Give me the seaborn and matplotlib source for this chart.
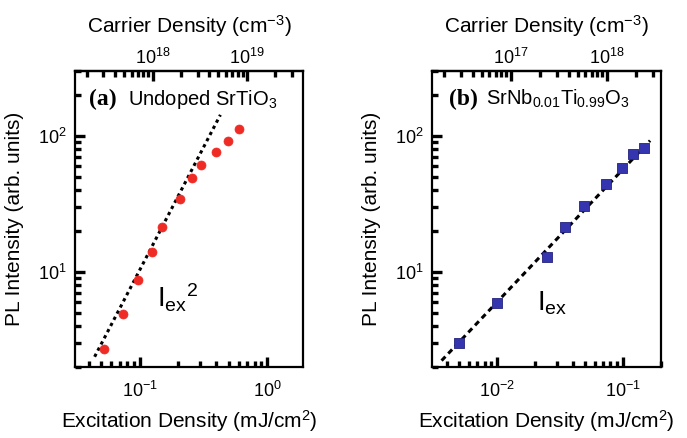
import numpy as np
import pandas as pd
import matplotlib
matplotlib.use("Agg")
import matplotlib.pyplot as plt
import seaborn as sns
from matplotlib.ticker import (LogLocator, LogFormatterSciNotation, NullFormatter,
                               FixedLocator)

# ---------------- data ----------------
exc_a = [0.0523, 0.0739, 0.0965, 0.126, 0.151, 0.209, 0.257, 0.304, 0.397, 0.493, 0.605]
pl_a = [2.70, 4.91, 8.69, 13.97, 21.5, 34.5, 48.9, 61.2, 76.3, 92.3, 112.5]
fit_a_x = [0.0443, 0.431]
fit_a_y = [2.38, 142.7]

exc_b = [0.00499, 0.0100, 0.0250, 0.0348, 0.0496, 0.0733, 0.098, 0.121, 0.148]
pl_b = [3.02, 5.94, 12.8, 21.5, 30.7, 44.2, 58.5, 73.3, 81.6]
fit_b_x = [0.00365, 0.165]
fit_b_y = [2.23, 92.3]

# carrier density axis: log10(N) = c0 + c1 * log10(E)
carrier_a = (19.213, 1.351)
carrier_b = (19.479, 1.3125)
carrier_ticks_a = [1e18, 1e19]
carrier_ticks_b = [1e17, 1e18]

xlim_a = (0.031, 1.92)
xlim_b = (0.00307, 0.201)
ylim = (2.0, 300.0)

# ---------------- style ----------------
sns.set_theme(style="ticks")
plt.rcParams["font.family"] = ["Liberation Sans", "DejaVu Sans"]
plt.rcParams["mathtext.fontset"] = "custom"
plt.rcParams["mathtext.rm"] = "Liberation Sans"
plt.rcParams["mathtext.it"] = "Liberation Sans:italic"
plt.rcParams["mathtext.bf"] = "Liberation Sans:bold"
plt.rcParams["lines.scale_dashes"] = False
plt.rcParams["axes.axisbelow"] = False
for k in ("text.color", "axes.labelcolor", "xtick.color", "ytick.color",
          "axes.edgecolor"):
    plt.rcParams[k] = "black"

fig = plt.figure(figsize=(6.87, 4.38), dpi=100)
fig.patch.set_facecolor("white")

ax_a = fig.add_axes([0.109, 0.162, 0.332, 0.676])
ax_b = fig.add_axes([0.629, 0.162, 0.333, 0.676])


def make_funcs(c):
    c0, c1 = c

    def fwd(x):
        x = np.asarray(x, dtype=float)
        with np.errstate(divide="ignore", invalid="ignore"):
            return 10 ** (c0 + c1 * np.log10(x))

    def inv(n):
        n = np.asarray(n, dtype=float)
        with np.errstate(divide="ignore", invalid="ignore"):
            return 10 ** ((np.log10(n) - c0) / c1)

    return fwd, inv


def style_axes(ax, xlim, carrier, carrier_ticks, tcol, tw, stcol, stw, stlen):
    ax.set_xscale("log")
    ax.set_yscale("log")
    ax.set_xlim(*xlim)
    ax.set_ylim(*ylim)
    ax.set_facecolor("white")
    for s in ax.spines.values():
        s.set_visible(True)
        s.set_linewidth(1.6)
        s.set_color("black")
    for axis in (ax.xaxis, ax.yaxis):
        axis.set_major_locator(LogLocator(base=10))
        axis.set_minor_locator(LogLocator(base=10, subs=np.arange(2, 10)))
        axis.set_major_formatter(LogFormatterSciNotation())
        axis.set_minor_formatter(NullFormatter())
    ax.tick_params(which="both", direction="in", top=False, right=False,
                   left=True, bottom=True, color=tcol, width=tw)
    ax.tick_params(which="major", length=7.5, labelsize=13)
    ax.tick_params(which="minor", length=4.5)
    ax.tick_params(axis="x", which="major", pad=10)
    ax.tick_params(axis="y", which="major", pad=6)
    ax.set_xlabel("Excitation Density (mJ/cm$^{2}$)", fontsize=15, labelpad=5)
    ax.set_ylabel("PL Intensity (arb. units)", fontsize=15, labelpad=10)

    fwd, inv = make_funcs(carrier)
    sec = ax.secondary_xaxis("top", functions=(fwd, inv))
    sec.patch.set_visible(False)
    sec.xaxis.set_major_locator(FixedLocator(carrier_ticks))
    sec.xaxis.set_minor_locator(LogLocator(base=10, subs=np.arange(2, 10)))
    sec.xaxis.set_major_formatter(LogFormatterSciNotation())
    sec.xaxis.set_minor_formatter(NullFormatter())
    sec.tick_params(which="both", direction="in", color=stcol, width=stw)
    sec.tick_params(which="major", length=stlen, labelsize=13, pad=2)
    sec.tick_params(which="minor", length=stlen * 0.6)
    sec.spines["top"].set_linewidth(1.6)
    sec.set_xlabel("Carrier Density (cm$^{-3}$)", fontsize=15, labelpad=11)
    return sec


# ---------------- panel (a) ----------------
df_a = pd.DataFrame({"exc": exc_a, "pl": pl_a})
fit_a = pd.DataFrame({"exc": fit_a_x, "pl": fit_a_y})
sns.lineplot(data=fit_a, x="exc", y="pl", ax=ax_a, color="black", lw=2.2,
             estimator=None, sort=False)
ax_a.lines[-1].set_dashes([2.4, 2.6])
sns.scatterplot(data=df_a, x="exc", y="pl", ax=ax_a, color="#EE2B24",
                s=42, edgecolor="#EE2B24", linewidth=0.5, zorder=3)
style_axes(ax_a, xlim_a, carrier_a, carrier_ticks_a, "black", 2.4, "black", 2.4, 7.5)

ax_a.text(0.062, 0.905, "(a)", transform=ax_a.transAxes, fontsize=17,
          fontweight="bold", family="Liberation Serif", va="center", ha="left")
ax_a.text(0.232, 0.905, "Undoped SrTiO$_3$", transform=ax_a.transAxes,
          fontsize=14.5, va="center", ha="left")
ax_a.text(0.36, 0.235, "I$_{\\mathrm{ex}}$$^{2}$", transform=ax_a.transAxes,
          fontsize=20, va="center", ha="left")

# ---------------- panel (b) ----------------
df_b = pd.DataFrame({"exc": exc_b, "pl": pl_b})
fit_b = pd.DataFrame({"exc": fit_b_x, "pl": fit_b_y})
sns.lineplot(data=fit_b, x="exc", y="pl", ax=ax_b, color="black", lw=2.2,
             estimator=None, sort=False)
ax_b.lines[-1].set_dashes([4.0, 3.0])
sns.scatterplot(data=df_b, x="exc", y="pl", ax=ax_b, color="#3535B0",
                marker="s", s=48, edgecolor="#22227A", linewidth=0.6, zorder=3)
style_axes(ax_b, xlim_b, carrier_b, carrier_ticks_b, "black", 2.4, "black", 2.4, 7.5)

ax_b.text(0.072, 0.905, "(b)", transform=ax_b.transAxes, fontsize=17,
          fontweight="bold", family="Liberation Serif", va="center", ha="left")
ax_b.text(0.235, 0.905, "SrNb$_{0.01}$Ti$_{0.99}$O$_3$", transform=ax_b.transAxes,
          fontsize=14.5, va="center", ha="left")
ax_b.text(0.46, 0.215, "I$_{\\mathrm{ex}}$", transform=ax_b.transAxes,
          fontsize=20, va="center", ha="left")

fig.savefig("out.png", dpi=100, facecolor="white")
